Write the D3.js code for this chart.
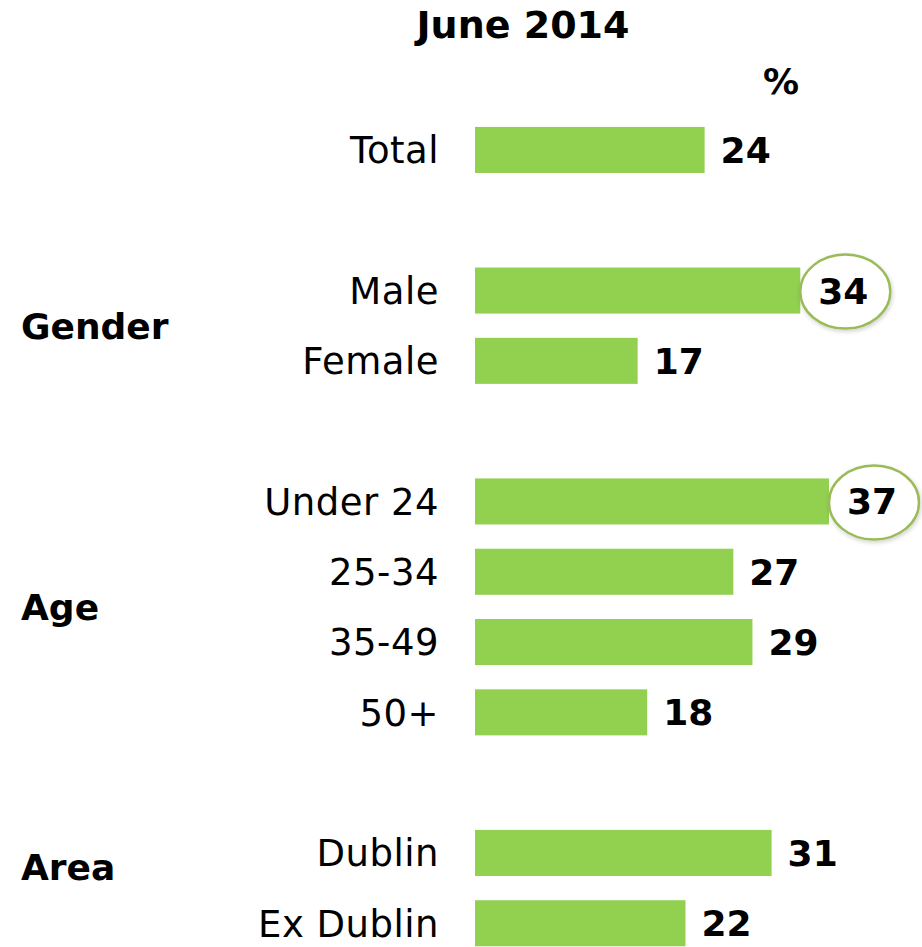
<!DOCTYPE html>
<html lang="en">
<head>
    <meta charset="UTF-8" />
    <title>June 2014</title>
    <style>
        body { margin: 0; background: #ffffff; }
        text { font-family: "DejaVu Sans", Verdana, sans-serif; fill: #000000; }
        .bar { fill: #92d050; }
        .row-label { font-size: 37px; letter-spacing: 0.5px; }
        .value { font-size: 36px; font-weight: bold; }
        .group-label { font-size: 36px; font-weight: bold; }
        .title { font-size: 38px; font-weight: bold; }
        .ring { fill: #ffffff; stroke: #9bbb59; stroke-width: 2.5px; }
    </style>
</head>
<body>
    <div id="chart"></div>

    <script src="https://cdnjs.cloudflare.com/ajax/libs/d3/7.8.5/d3.min.js"></script>
    <script>
        // rows in drawing order, the '_g' slots keep the gaps between groups
        const rows = ['Total', '_g1', 'Male', 'Female', '_g2', 'Under 24', '25-34', '35-49', '50+', '_g3', 'Dublin', 'Ex Dublin'];
        const categories = ['Total', 'Male', 'Female', 'Under 24', '25-34', '35-49', '50+', 'Dublin', 'Ex Dublin'];
        const values = [24, 34, 17, 37, 27, 29, 18, 31, 22];
        const highlighted = ['Male', 'Under 24'];

        const groupNames = ['Gender', 'Age', 'Area'];
        const groupRows = [['Male', 'Female'], ['Under 24', '25-34', '35-49', '50+'], ['Dublin', 'Ex Dublin']];
        const groupShift = [0, 0, -0.3];   // in row steps

        const data = categories.map((c, i) => ({ name: c, value: values[i] }));

        const width = 922, height = 947;

        const svg = d3.select('#chart').append('svg')
            .attr('width', width)
            .attr('height', height);

        const defs = svg.append('defs');
        defs.append('filter')
            .attr('id', 'shadow')
            .attr('x', '-20%').attr('y', '-20%')
            .attr('width', '140%').attr('height', '140%')
            .append('feDropShadow')
            .attr('dx', 1).attr('dy', 2)
            .attr('stdDeviation', 2)
            .attr('flood-color', '#000')
            .attr('flood-opacity', 0.18);

        const x = d3.scaleLinear()
            .domain([0, 37])
            .range([475, 829]);

        const y = d3.scaleBand()
            .domain(rows)
            .range([114.8, 958.4])
            .paddingInner(0.345)
            .paddingOuter(0.1725);

        const mid = d => y(d) + y.bandwidth() / 2;

        // title and unit
        svg.append('text')
            .attr('class', 'title')
            .attr('x', 523)
            .attr('y', 38)
            .attr('text-anchor', 'middle')
            .text('June 2014');

        svg.append('text')
            .attr('class', 'value')
            .attr('x', 781)
            .attr('y', 94)
            .attr('text-anchor', 'middle')
            .text('%');

        // bars
        svg.append('g')
            .selectAll('rect')
            .data(data)
            .join('rect')
            .attr('class', 'bar')
            .attr('x', x(0))
            .attr('y', d => y(d.name))
            .attr('width', d => x(d.value) - x(0))
            .attr('height', y.bandwidth());

        // row labels
        svg.append('g')
            .selectAll('text')
            .data(data)
            .join('text')
            .attr('class', 'row-label')
            .attr('x', x(0) - 36)
            .attr('y', d => mid(d.name))
            .attr('dy', '0.36em')
            .attr('text-anchor', 'end')
            .text(d => d.name);

        // rings behind the highlighted values
        const ringRx = 45, ringRy = 37;
        svg.append('g')
            .selectAll('ellipse')
            .data(data.filter(d => highlighted.includes(d.name)))
            .join('ellipse')
            .attr('class', 'ring')
            .attr('filter', 'url(#shadow)')
            .attr('cx', d => x(d.value) + ringRx)
            .attr('cy', d => mid(d.name) + 1)
            .attr('rx', ringRx)
            .attr('ry', ringRy);

        // values
        svg.append('g')
            .selectAll('text')
            .data(data)
            .join('text')
            .attr('class', 'value')
            .attr('x', d => highlighted.includes(d.name) ? x(d.value) + ringRx - 2 : x(d.value) + 16)
            .attr('y', d => mid(d.name))
            .attr('dy', '0.36em')
            .attr('text-anchor', d => highlighted.includes(d.name) ? 'middle' : 'start')
            .text(d => d.value);

        // group labels
        svg.append('g')
            .selectAll('text')
            .data(groupNames)
            .join('text')
            .attr('class', 'group-label')
            .attr('x', 21)
            .attr('y', (g, i) => d3.mean(groupRows[i], mid) + groupShift[i] * y.step())
            .attr('dy', '0.36em')
            .text(g => g);
    </script>
</body>
</html>
